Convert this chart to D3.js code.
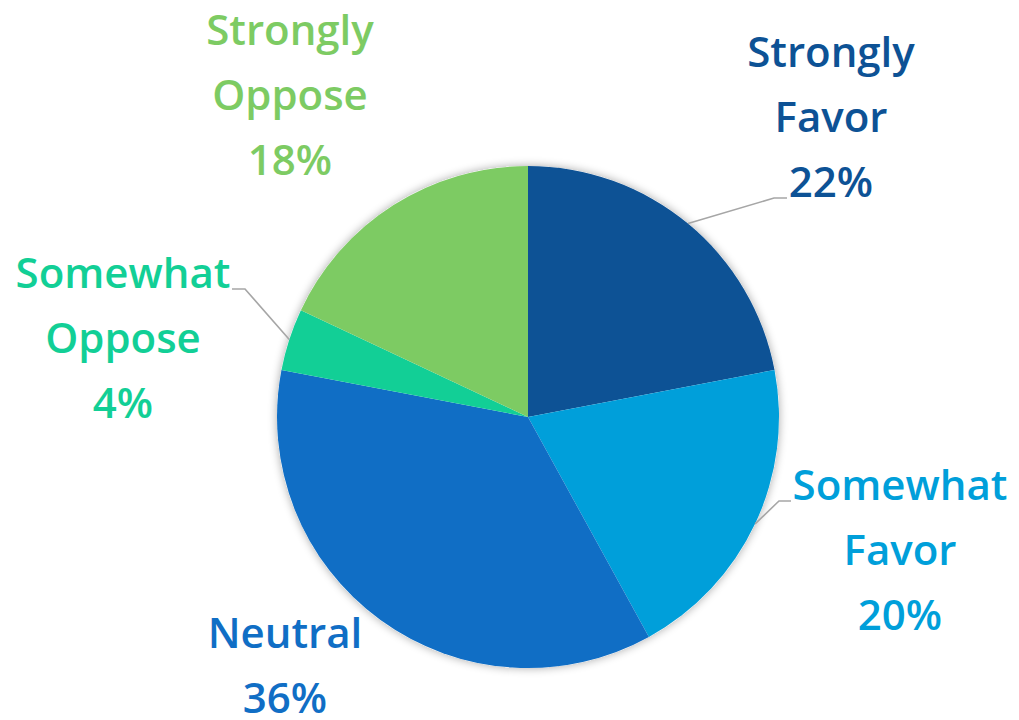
<!DOCTYPE html>
<html>
<head>
<meta charset="utf-8">
<script src="https://cdn.jsdelivr.net/npm/d3@7"></script>
<style>
  html, body { margin: 0; padding: 0; background: #ffffff; }
  svg { display: block; }
  text { font-family: "Open Sans", "DejaVu Sans", sans-serif; font-weight: 600; }
</style>
</head>
<body>
<svg id="chart" width="1019" height="720"></svg>
<script>
// Survey responses, clockwise from 12 o'clock
const categories = ["Strongly Favor", "Somewhat Favor", "Neutral", "Somewhat Oppose", "Strongly Oppose"];
const labelLines = [["Strongly", "Favor"], ["Somewhat", "Favor"], ["Neutral"], ["Somewhat", "Oppose"], ["Strongly", "Oppose"]];
const shares = [22, 20, 36, 4, 18];
const colors = ["#0d5295", "#009fda", "#106ec5", "#12cf96", "#7dcb63"];

// Label placement: centre x, first baseline y, and optional leader elbow / end
const labelLayout = [
  { x: 831, y: 67,  leader: [[774, 198], [787, 198]] },
  { x: 900, y: 500, leader: [[779, 501], [791, 501]] },
  { x: 285, y: 648, leader: null },
  { x: 123, y: 288, leader: [[245, 289], [232, 289]] },
  { x: 290, y: 45,  leader: null }
];

const W = 1019, H = 720;
const cx = 528, cy = 417, R = 251;
const lineStep = 65;

const svg = d3.select("#chart");

// soft shadow around the disc
const defs = svg.append("defs");
const f = defs.append("filter").attr("id", "glow")
  .attr("x", "-20%").attr("y", "-20%").attr("width", "140%").attr("height", "140%");
f.append("feGaussianBlur").attr("in", "SourceAlpha").attr("stdDeviation", 5).attr("result", "b");
f.append("feComponentTransfer").attr("in", "b").attr("result", "s")
  .append("feFuncA").attr("type", "linear").attr("slope", 0.35);
const m = f.append("feMerge");
m.append("feMergeNode").attr("in", "s");
m.append("feMergeNode").attr("in", "SourceGraphic");

const data = categories.map((c, i) => ({ cat: c, value: shares[i], color: colors[i], lines: labelLines[i], layout: labelLayout[i] }));

const pie = d3.pie().value(d => d.value).sort(null);
const arcs = pie(data);
const arc = d3.arc().innerRadius(0).outerRadius(R);

const g = svg.append("g").attr("transform", `translate(${cx},${cy})`);

g.append("circle").attr("r", R).attr("fill", "#ffffff").attr("filter", "url(#glow)");

g.selectAll("path.slice")
  .data(arcs)
  .join("path")
  .attr("class", "slice")
  .attr("d", arc)
  .attr("fill", d => d.data.color);

// leader lines from the rim at each slice's mid-angle
const edge = d3.arc().innerRadius(R).outerRadius(R);
svg.selectAll("polyline.leader")
  .data(arcs.filter(d => d.data.layout.leader))
  .join("polyline")
  .attr("class", "leader")
  .attr("fill", "none")
  .attr("stroke", "#a6a6a6")
  .attr("stroke-width", 1.6)
  .attr("points", d => {
    const [px, py] = edge.centroid(d);
    const pts = [[cx + px, cy + py], ...d.data.layout.leader];
    return pts.map(p => p.join(",")).join(" ");
  });

// category + percentage labels
const labels = svg.selectAll("text.lbl")
  .data(arcs)
  .join("text")
  .attr("class", "lbl")
  .attr("text-anchor", "middle")
  .attr("font-size", 42)
  .attr("fill", d => d.data.color);

labels.each(function(d) {
  const t = d3.select(this);
  const lines = [...d.data.lines, d.data.value + "%"];
  lines.forEach((ln, i) => {
    t.append("tspan")
      .attr("x", d.data.layout.x)
      .attr("y", d.data.layout.y + i * lineStep)
      .text(ln);
  });
});
</script>
</body>
</html>
